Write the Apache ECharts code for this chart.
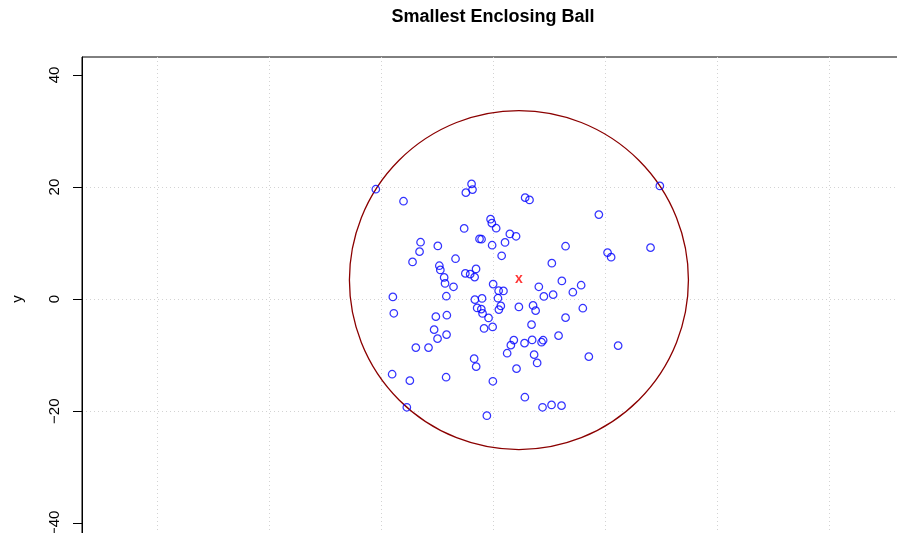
<!DOCTYPE html>
<html>
<head>
<meta charset="utf-8">
<script src="https://cdn.jsdelivr.net/npm/echarts@6/dist/echarts.min.js"></script>
<style>
  html, body { margin: 0; padding: 0; background: #ffffff; }
  #chart { width: 897px; height: 533px; }
</style>
</head>
<body>
<div id="chart"></div>
<script>
// Sample points
const pointsX = [
  -20.93, -15.99, -3.85, -3.68, -4.87, 5.71, 6.49, 29.74, 18.86, -0.46,
  -0.23, 0.54, -5.17, -12.95, -13.13, -9.87, -2.43, -2.07, 2.98, 4.09,
  2.12, -0.18, 12.92, 28.08, 1.52, -14.38, -6.71, 10.47, 20.41, 21.05,
  -9.60, -9.42, -8.74, -8.58, -7.07, -4.96, -4.10, -3.05, -3.30, 0.00,
  12.26, 15.70, 14.22, 8.15, 0.98, 1.84, -8.35, 10.70, 9.05, -3.26,
  -1.98, -17.89, 0.86, 4.59, -17.72, -10.22, -8.26, -2.85, -2.11, -1.89,
  -0.82, 1.37, 1.02, 7.12, 7.58, 16.00, 12.92, -1.62, -0.09, 6.85,
  -10.53, -9.92, -8.31, -13.79, -11.53, 3.16, 3.69, 5.60, 6.96, 8.92,
  8.64, 11.67, 22.30, 2.50, 7.31, 7.85, 17.07, -3.39, -3.03, 4.17,
  -18.02, -14.86, -8.39, -0.05, 5.66, -15.40, -1.12, 8.81, 10.42, 12.20
];
const pointsY = [
  19.61, 17.47, 20.55, 19.54, 19.00, 18.11, 17.70, 20.20, 15.08, 14.26,
  13.56, 12.65, 12.61, 10.15, 8.47, 9.49, 10.74, 10.69, 11.63, 11.22,
  10.12, 9.62, 9.44, 9.19, 7.74, 6.64, 7.21, 6.41, 8.30, 7.48,
  5.96, 5.21, 3.87, 2.80, 2.21, 4.59, 4.46, 5.39, 3.93, 2.68,
  3.25, 2.48, 1.23, 2.21, 1.50, 1.46, 0.52, 0.80, 0.48, -0.09,
  0.12, 0.39, 0.16, -1.39, -2.52, -3.12, -2.87, -1.57, -1.78, -2.55,
  -3.35, -1.21, -1.87, -1.12, -2.05, -1.62, -3.30, -5.23, -4.96, -4.55,
  -5.44, -7.05, -6.33, -8.65, -8.65, -8.21, -7.31, -7.85, -7.28, -7.33,
  -7.69, -6.51, -8.30, -9.65, -9.90, -11.38, -10.26, -10.62, -12.04, -12.40,
  -13.40, -14.54, -13.93, -14.65, -17.50, -19.29, -20.79, -19.29, -18.88, -19.00
];

// Smallest enclosing ball: centre and radius
const ballCenter = [4.60, 3.40];
const ballRadius = 30.24;

// Tick values on the y axis
const yTicks = [-40, -20, 0, 20, 40];

const FONT = 'Liberation Sans, Arial, Helvetica, sans-serif';

const pointData = pointsX.map((x, i) => [x, pointsY[i]]);

const gridLine = {
  show: true,
  showMinLine: false,
  showMaxLine: false,
  lineStyle: { color: '#d3d3d3', type: [1, 3], width: 1 }
};

const chart = echarts.init(document.getElementById('chart'), null, { renderer: 'canvas' });

chart.setOption({
  animation: false,
  backgroundColor: '#ffffff',
  title: {
    text: 'Smallest Enclosing Ball',
    left: 493,
    top: 8,
    padding: 0,
    textAlign: 'center',
    textStyle: { fontFamily: FONT, fontSize: 18, fontWeight: 'bold', color: '#000000' }
  },
  grid: {
    left: 82,
    top: 57,
    width: 822,
    height: 484,
    outerBoundsMode: 'none',
    containLabel: false,
    show: true,
    borderColor: '#000000',
    borderWidth: 1,
    backgroundColor: 'transparent'
  },
  xAxis: {
    type: 'value',
    min: -73.35,
    max: 73.3,
    splitNumber: 7,
    axisLine: { show: false },
    axisTick: { show: false },
    axisLabel: { show: false },
    splitLine: gridLine
  },
  yAxis: {
    type: 'value',
    min: -43.15,
    max: 43.2,
    splitNumber: 5,
    name: 'y',
    nameLocation: 'middle',
    nameGap: 57,
    nameRotate: 90,
    nameTextStyle: { fontFamily: FONT, fontSize: 15, color: '#000000' },
    axisLine: { show: true, onZero: false, lineStyle: { color: '#000000', width: 1 } },
    axisTick: { show: true, length: 9, customValues: yTicks, lineStyle: { color: '#000000', width: 1 } },
    axisLabel: {
      customValues: yTicks,
      rotate: 90,
      margin: 20,
      fontFamily: FONT,
      fontSize: 15,
      color: '#000000',
      formatter: v => (v < 0 ? '\u2212' + Math.abs(v) : String(v))
    },
    splitLine: gridLine
  },
  series: [
    {
      // enclosing circle, sized through the axis scale
      type: 'custom',
      coordinateSystem: 'cartesian2d',
      silent: true,
      clip: false,
      data: [[ballCenter[0], ballCenter[1], ballRadius]],
      renderItem: (params, api) => {
        const c = api.coord([api.value(0), api.value(1)]);
        const r = api.size([api.value(2), 0])[0];
        return {
          type: 'circle',
          shape: { cx: c[0], cy: c[1], r: r },
          style: { fill: 'none', stroke: '#8b0000', lineWidth: 1.3 }
        };
      }
    },
    {
      type: 'scatter',
      silent: true,
      symbol: 'circle',
      symbolSize: 7.5,
      itemStyle: { color: 'rgba(0,0,0,0)', borderColor: '#0000ff', borderWidth: 1.25 },
      data: pointData
    },
    {
      // centre marker
      type: 'scatter',
      silent: true,
      symbolSize: 0.1,
      itemStyle: { color: 'rgba(0,0,0,0)' },
      label: {
        show: true,
        position: 'inside',
        formatter: 'x',
        fontFamily: FONT,
        fontSize: 14,
        fontWeight: 'bold',
        color: '#ff0000',
        offset: [0, -1]
      },
      data: [ballCenter]
    }
  ]
});
</script>
</body>
</html>
